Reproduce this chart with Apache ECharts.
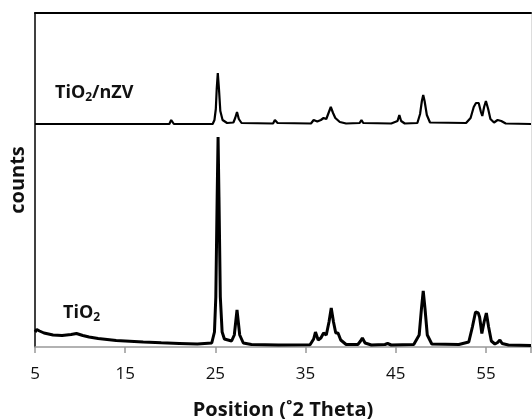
<!DOCTYPE html>
<html>
<head>
<meta charset="utf-8">
<script src="https://cdn.jsdelivr.net/npm/echarts@6/dist/echarts.min.js"></script>
<style>
  html, body { margin: 0; padding: 0; background: #fff; }
  #chart { width: 532px; height: 419px; }
</style>
</head>
<body>
<div id="chart"></div>
<script>
// x ticks (°2θ)
const xTicks = [5, 15, 25, 35, 45, 55];

// TiO2 pattern, [2theta, counts]
const tio2 = [
  [5.0, 150], [5.2, 175], [5.5, 160], [6, 140], [7, 120], [8, 115], [9, 125], [9.6, 135],
  [10.3, 115], [11, 100], [12, 85], [13, 75], [14, 65], [15, 60], [17, 50], [19, 42],
  [21, 36], [23, 30], [24.6, 40], [24.9, 150], [25.05, 500], [25.2, 1500], [25.3, 2100],
  [25.4, 1500], [25.55, 500], [25.75, 150], [26.0, 80], [26.8, 60], [27.1, 120], [27.4, 370],
  [27.7, 120], [28.1, 40], [29, 25], [32, 20], [35.5, 22], [35.9, 80], [36.1, 150], [36.4, 70],
  [36.7, 90], [37.0, 140], [37.3, 120], [37.6, 250], [37.85, 390], [38.1, 250], [38.35, 140],
  [38.6, 140], [38.9, 70], [39.5, 25], [40.8, 25], [41.1, 60], [41.3, 90], [41.6, 40],
  [42.3, 20], [43.8, 25], [44.1, 35], [44.5, 20], [47, 25], [47.6, 120], [47.85, 380],
  [48.05, 560], [48.25, 380], [48.5, 120], [49, 30], [52, 25], [53.1, 50], [53.5, 200],
  [53.85, 350], [54.15, 340], [54.3, 300], [54.55, 135], [54.8, 250], [55.05, 340], [55.3, 200],
  [55.6, 60], [56.0, 30], [56.3, 45], [56.55, 70], [56.8, 35], [57.5, 20], [60, 15]
];

// TiO2/nZV pattern, [2theta, counts] (before stacking offset)
const tio2nzv = [
  [5, 0], [19.9, 0], [20.1, 40], [20.25, 60], [20.4, 0], [24.7, 0], [24.9, 40], [25.05, 150],
  [25.15, 350], [25.27, 510], [25.4, 350], [25.55, 130], [25.8, 40], [26.3, 10], [27.0, 15],
  [27.2, 60], [27.4, 120], [27.6, 50], [27.9, 10], [31.4, 5], [31.6, 40], [31.75, 60], [31.9, 10],
  [35.6, 5], [35.9, 40], [36.05, 60], [36.3, 25], [36.7, 40], [37.0, 60], [37.3, 50], [37.55, 110],
  [37.8, 170], [38.05, 110], [38.3, 60], [38.5, 60], [38.8, 20], [39.5, 5], [41.0, 10], [41.2, 40],
  [41.4, 10], [44.5, 5], [45.2, 30], [45.4, 90], [45.6, 30], [46, 5], [47.4, 10], [47.7, 100],
  [47.9, 230], [48.05, 290], [48.2, 230], [48.45, 90], [48.8, 15], [52.8, 10], [53.3, 60],
  [53.65, 170], [53.9, 210], [54.2, 210], [54.45, 120], [54.6, 80], [54.8, 170], [55.0, 230],
  [55.25, 150], [55.5, 50], [55.9, 15], [56.3, 40], [56.5, 60], [56.7, 30], [57.2, 5], [60, 0]
];
const nzvOffset = 2230;

const font = '"Open Sans", sans-serif';
const chart = echarts.init(document.getElementById('chart'), null, { renderer: 'canvas' });

const labelRich = {
  m: { fontFamily: font, fontWeight: 'bold', fontSize: 18, fill: '#111' },
  s: { fontFamily: font, fontWeight: 'bold', fontSize: 12, fill: '#111', padding: [9, 0, 0, 0] }
};

chart.setOption({
  animation: false,
  grid: { left: 35, right: 1, top: 13, bottom: 72, outerBoundsMode: 'none', containLabel: false },
  xAxis: [{
    type: 'value',
    min: 5, max: 60, interval: 10,
    name: 'Position (˚2 Theta)',
    nameLocation: 'middle',
    nameGap: 53,
    nameTextStyle: { fontFamily: font, fontWeight: 'bold', fontSize: 20, color: '#111' },
    axisLine: { lineStyle: { color: '#999', width: 1.5 } },
    axisTick: { show: true, length: 6, lineStyle: { color: '#999', width: 1.5 } },
    axisLabel: {
      fontFamily: font, fontSize: 17, color: '#111', margin: 19,
      formatter: v => xTicks.includes(v) ? String(v) : ''
    },
    splitLine: { show: false }
  }, {
    type: 'value', position: 'top', min: 5, max: 60,
    axisLine: { show: true, onZero: false, lineStyle: { color: '#000', width: 2 } },
    axisTick: { show: false }, axisLabel: { show: false }, splitLine: { show: false }
  }],
  yAxis: [{
    type: 'value', min: 0, max: 3340,
    name: 'counts',
    nameLocation: 'middle',
    nameGap: 7,
    nameTextStyle: { fontFamily: font, fontWeight: 'bold', fontSize: 20, color: '#111' },
    axisLine: { show: true, onZero: false, lineStyle: { color: '#000', width: 1.5 } },
    axisTick: { show: false }, axisLabel: { show: false }, splitLine: { show: false }
  }, {
    type: 'value', position: 'right', min: 0, max: 3340,
    axisLine: { show: true, onZero: false, lineStyle: { color: '#ddd', width: 1 } },
    axisTick: { show: false }, axisLabel: { show: false }, splitLine: { show: false }
  }],
  series: [{
    type: 'line', name: 'TiO2', data: tio2, showSymbol: false,
    lineStyle: { color: '#000', width: 3 }
  }, {
    type: 'line', name: 'TiO2/nZV',
    data: tio2nzv.map(p => [p[0], p[1] + nzvOffset]),
    showSymbol: false,
    lineStyle: { color: '#000', width: 2.2 }
  }],
  graphic: [{
    type: 'text', left: 55, top: 84,
    style: { text: '{m|TiO}{s|2}{m|/nZV}', rich: labelRich }
  }, {
    type: 'text', left: 63, top: 304,
    style: { text: '{m|TiO}{s|2}', rich: labelRich }
  }]
});
</script>
</body>
</html>
